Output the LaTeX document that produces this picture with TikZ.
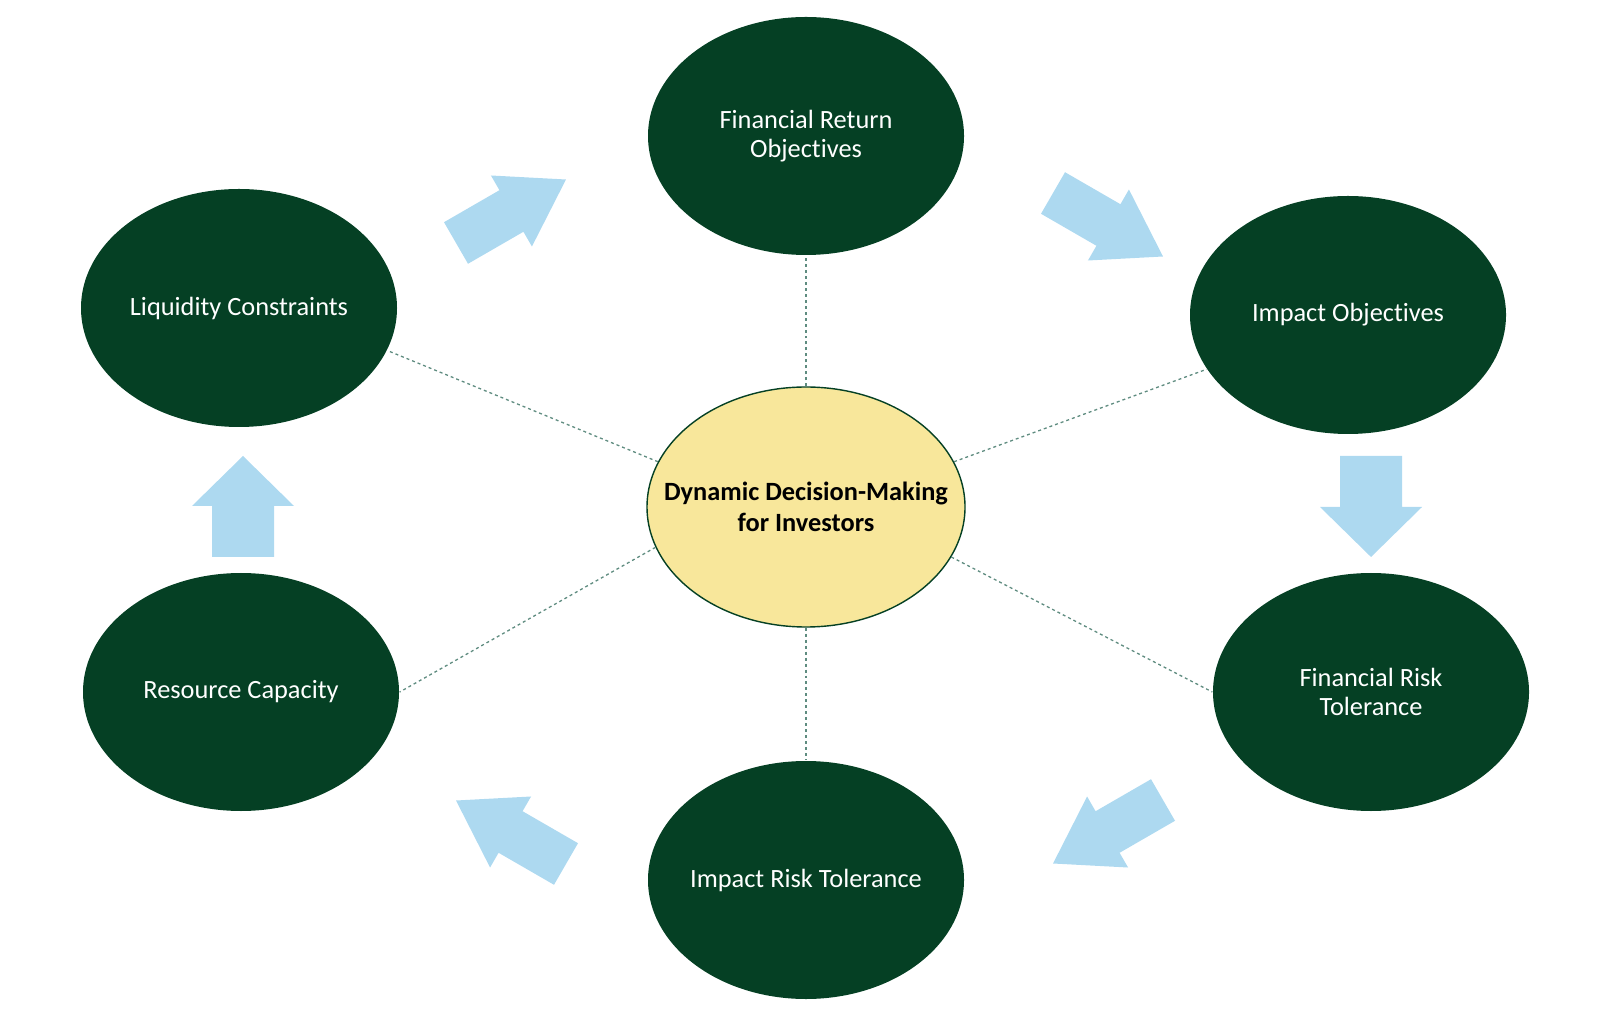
\documentclass[tikz,border=0pt]{standalone}
\usepackage{fontspec}
\setmainfont{Carlito}[Ligatures=NoCommon]
\usetikzlibrary{shapes.geometric}
\definecolor{goalgreen}{RGB}{5,64,36}
\definecolor{hubyellow}{RGB}{248,231,155}
\definecolor{flowblue}{RGB}{173,217,240}
\definecolor{spokegrey}{RGB}{95,140,128}
% block arrow: length / shaft width / head width / head length
\tikzset{
  pics/blockarr/.style n args={4}{code={
    \fill[flowblue] (0,-#2/2) -- (#1-#4,-#2/2) -- (#1-#4,-#3/2) -- (#1,0)
      -- (#1-#4,#3/2) -- (#1-#4,#2/2) -- (0,#2/2) -- cycle;}}
}

\begin{document}
\begin{tikzpicture}[
  goal/.style={ellipse, fill=goalgreen, text=white, align=center,
               minimum width=3.16cm, minimum height=2.38cm,
               inner xsep=-0.4cm, inner ysep=0pt,
               font=\fontsize{7.5}{8.3}\selectfont},
  hub/.style={ellipse, draw=goalgreen, fill=hubyellow, align=center,
              minimum width=3.18cm, minimum height=2.40cm,
              inner xsep=-0.4cm, inner ysep=0pt,
              font=\fontsize{7.5}{9}\selectfont\bfseries},
  spoke/.style={draw=spokegrey, line width=0.37pt,
                dash pattern=on 0.85pt off 0.85pt}
]
\useasboundingbox (0,0) rectangle (16,10.16);

\node[goal] (fro) at (8.06,8.80)  {Financial Return\\Objectives};
\node[goal] (liq) at (2.39,7.08)  {Liquidity Constraints};
\node[goal] (imo) at (13.48,7.01) {Impact Objectives};
\node[goal] (frt) at (13.71,3.24) {Financial Risk\\Tolerance};
\node[goal] (irt) at (8.06,1.36)  {Impact Risk Tolerance};
\node[goal] (res) at (2.41,3.24)  {Resource Capacity};
\node[hub]  (dm)  at (8.06,5.09)  {Dynamic Decision-Making\\for Investors};

% spokes to the hub
\draw[spoke] (dm.north) -- (fro.south);
\draw[spoke] (dm.south) -- (irt.north);
\draw[spoke] (dm.163) -- (liq.344);
\draw[spoke] (dm.17)  -- (imo.201);
\draw[spoke] (dm.341) -- (frt.west);
\draw[spoke] (dm.195) -- (res.east);

% cycle arrows
\pic[rotate=30]  at (4.56,7.73)  {blockarr={1.27}{0.48}{0.82}{0.63}};
\pic[rotate=-30] at (10.53,8.23) {blockarr={1.27}{0.48}{0.82}{0.63}};
\pic[rotate=-90] at (13.71,5.60) {blockarr={1.01}{0.62}{1.02}{0.50}};
\pic[rotate=210] at (11.63,2.16) {blockarr={1.27}{0.48}{0.82}{0.63}};
\pic[rotate=150] at (5.66,1.52)  {blockarr={1.27}{0.48}{0.82}{0.63}};
\pic[rotate=90]  at (2.43,4.59)  {blockarr={1.01}{0.62}{1.02}{0.50}};
\end{tikzpicture}
\end{document}
